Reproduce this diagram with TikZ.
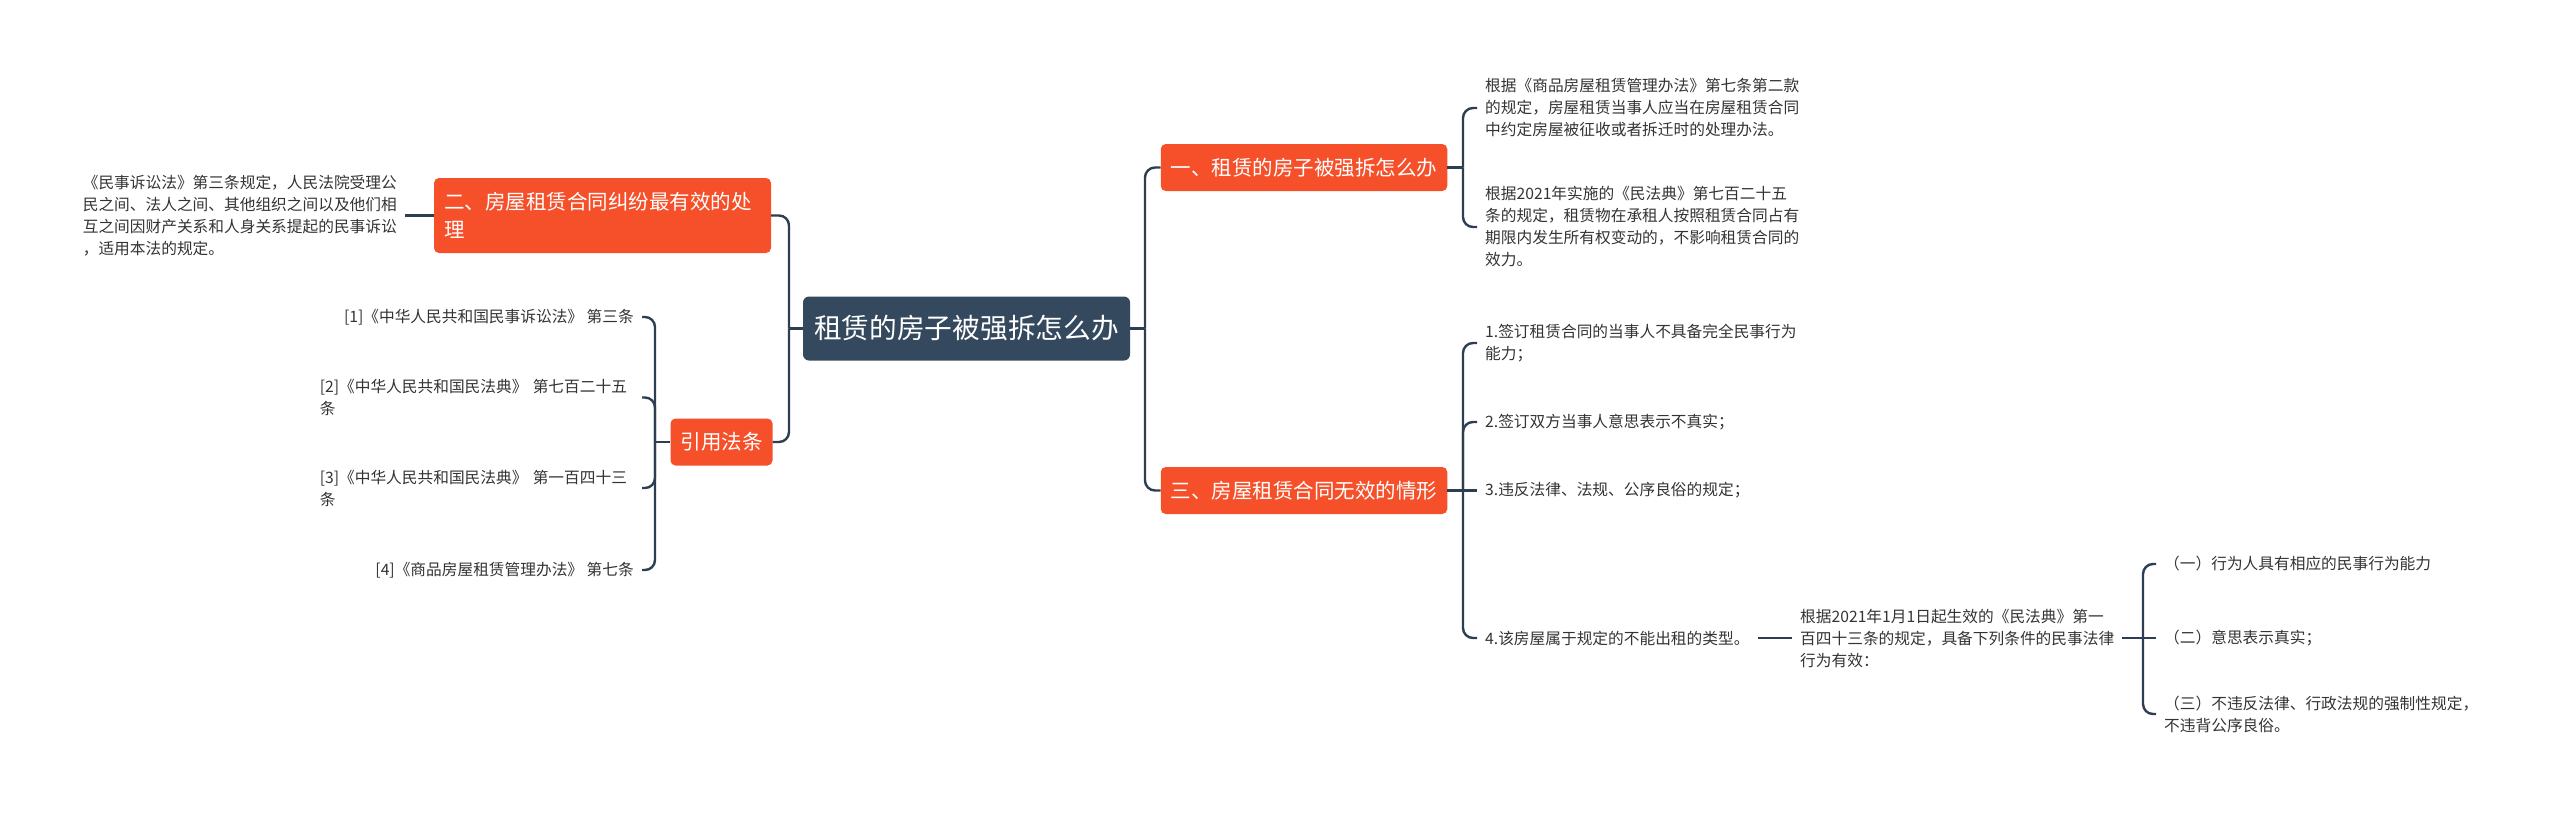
\documentclass[tikz,border=0pt]{standalone}
\usepackage{fontspec}
\setmainfont{Noto Sans CJK SC}
\usepackage{tikz}
\usepackage{xcolor}
\definecolor{rootfill}{HTML}{34495E}
\definecolor{topicfill}{HTML}{F5502A}
\definecolor{linkcol}{HTML}{2C3E50}
\definecolor{leaftext}{HTML}{333333}

\begin{document}
\begin{tikzpicture}[x=1pt,y=-1pt,
  centre/.style={fill=rootfill,rounded corners=6pt,text=white,font=\fontsize{27.7}{34}\selectfont,minimum height=64pt,minimum width=327pt,inner xsep=0pt},
  topic/.style={fill=topicfill,rounded corners=5pt,text=white,font=\fontsize{20.5}{28}\selectfont,minimum height=47pt,inner xsep=10pt,align=left},
  leaf/.style={text=leaftext,font=\fontsize{15.7}{22}\selectfont,align=left,inner xsep=8pt,inner ysep=2pt},
  branchline/.style={draw=linkcol,line width=2.4pt},
  curveline/.style={branchline,rounded corners=10pt}]
\useasboundingbox (0,0) rectangle (2560,812);

\node[centre] (0) at (966.5,328.5) {租赁的房子被强拆怎么办};

\node[topic] (1) at (1304,167.5) {一、租赁的房子被强拆怎么办};
\node[topic] (2) at (1304,490.5) {三、房屋租赁合同无效的情形};
\node[topic,text width=317pt,minimum height=75pt] (3) at (602.5,215.5) {二、房屋租赁合同纠纷最有效的处\\理};
\node[topic] (4) at (721.5,442) {引用法条};

\node[leaf,anchor=east] (5) at (405,215.5) {《民事诉讼法》第三条规定，人民法院受理公\\民之间、法人之间、其他组织之间以及他们相\\互之间因财产关系和人身关系提起的民事诉讼\\，适用本法的规定。};

\node[leaf,anchor=east] (6) at (642,317) {[1]《中华人民共和国民事诉讼法》 第三条};
\node[leaf,anchor=east,text width=314pt] (7) at (642,397.5) {[2]《中华人民共和国民法典》 第七百二十五\\条};
\node[leaf,anchor=east,text width=314pt] (8) at (642,488) {[3]《中华人民共和国民法典》 第一百四十三\\条};
\node[leaf,anchor=east] (9) at (642,570) {[4]《商品房屋租赁管理办法》 第七条};

\node[leaf,anchor=west] (10) at (1477,108) {根据《商品房屋租赁管理办法》第七条第二款\\的规定，房屋租赁当事人应当在房屋租赁合同\\中约定房屋被征收或者拆迁时的处理办法。};
\node[leaf,anchor=west] (11) at (1477,227) {根据2021年实施的《民法典》第七百二十五\\条的规定，租赁物在承租人按照租赁合同占有\\期限内发生所有权变动的，不影响租赁合同的\\效力。};

\node[leaf,anchor=west] (12) at (1477,343) {1.签订租赁合同的当事人不具备完全民事行为\\能力；};
\node[leaf,anchor=west] (13) at (1477,422) {2.签订双方当事人意思表示不真实；};
\node[leaf,anchor=west] (14) at (1477,490.5) {3.违反法律、法规、公序良俗的规定；};
\node[leaf,anchor=west] (15) at (1477,638) {4.该房屋属于规定的不能出租的类型。};

\node[leaf,anchor=west] (16) at (1792,638) {根据2021年1月1日起生效的《民法典》第一\\百四十三条的规定，具备下列条件的民事法律\\行为有效：};

\node[leaf,anchor=west] (17) at (2156,564) {（一）行为人具有相应的民事行为能力};
\node[leaf,anchor=west] (18) at (2156,638) {（二）意思表示真实；};
\node[leaf,anchor=west] (19) at (2156,714) {（三）不违反法律、行政法规的强制性规定，\\不违背公序良俗。};

\coordinate (r0) at (1145,328.5);
\coordinate (l0) at (789,328.5);
\coordinate (j1) at (1463,167.5);
\coordinate (j2) at (1463,490.5);
\coordinate (j4) at (655,442);
\coordinate (j16) at (2143,638);

\draw[branchline] (0) -- (r0);
\draw[curveline] (r0) |- (1.west);
\draw[curveline] (r0) |- (2.west);
\draw[branchline] (0) -- (l0);
\draw[curveline] (l0) |- (3.east);
\draw[curveline] (l0) |- (4.east);

\draw[branchline] (3) -- (5);

\draw[branchline] (4) -- (j4);
\draw[curveline] (j4) |- (6.east);
\draw[curveline] (j4) |- (7.east);
\draw[curveline] (j4) |- (8.east);
\draw[curveline] (j4) |- (9.east);

\draw[branchline] (1) -- (j1);
\draw[curveline] (j1) |- (10.west);
\draw[curveline] (j1) |- (11.west);

\draw[branchline] (2) -- (j2);
\draw[curveline] (j2) |- (12.west);
\draw[curveline] (j2) |- (13.west);
\draw[branchline] (j2) -- (14);
\draw[curveline] (j2) |- (15.west);

\draw[branchline] (15) -- (16);

\draw[branchline] (16) -- (j16);
\draw[curveline] (j16) |- (17.west);
\draw[branchline] (j16) -- (18);
\draw[curveline] (j16) |- (19.west);
\end{tikzpicture}
\end{document}
